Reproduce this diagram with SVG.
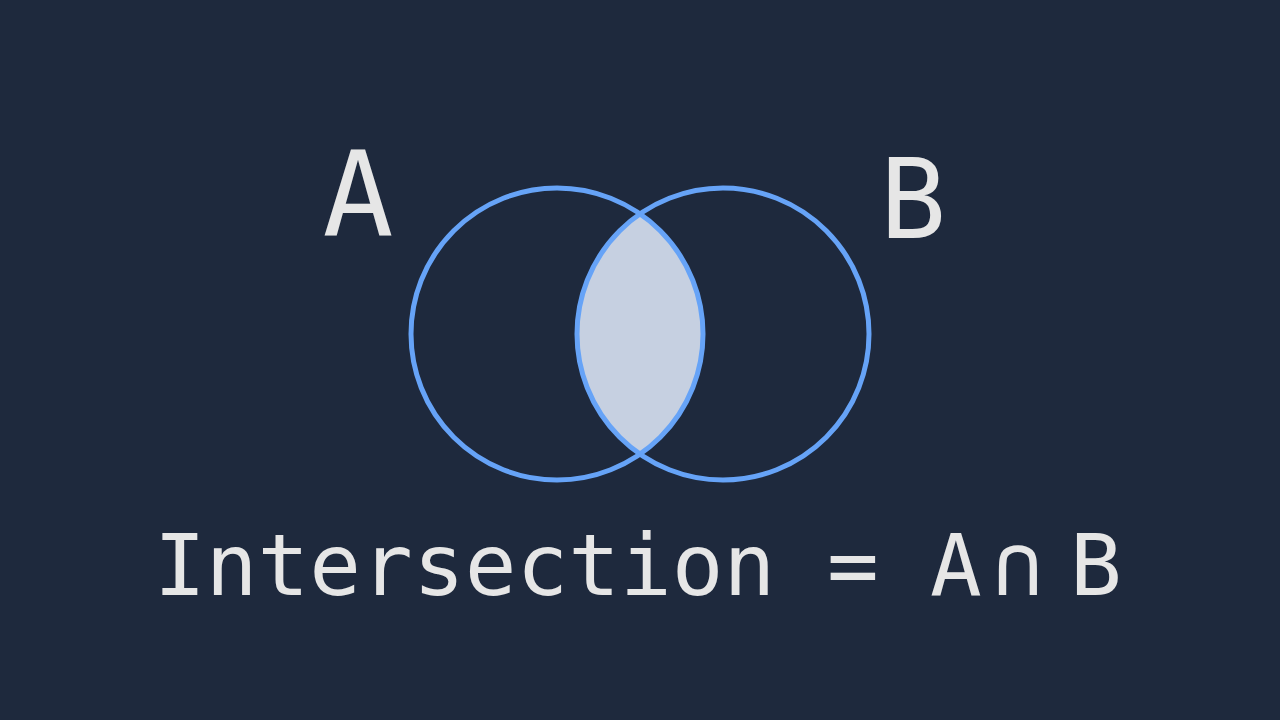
<svg xmlns="http://www.w3.org/2000/svg" width="1280" height="720" viewBox="0 0 1280 720">
  <style>
    .ring { fill: none; stroke: #66a3f7; stroke-width: 5; }
    .lens { fill: #c6d0e1; stroke: none; }
    .txt { font-family: "DejaVu Sans Mono", "Liberation Mono", monospace; fill: #e6e6e6; }
  </style>
  <rect x="0" y="0" width="1280" height="720" fill="#1e293d"/>
  <g id="intersection">
    <path class="lens" d="M 640 213.9 A 146 146 0 0 1 640 454.1 A 146 146 0 0 1 640 213.9 Z"/>
  </g>
  <g id="setA">
    <circle class="ring" cx="557" cy="334" r="146"/>
    <text class="txt" x="358" y="235" font-size="118" text-anchor="middle">A</text>
  </g>
  <g id="setB">
    <circle class="ring" cx="723" cy="334" r="146"/>
    <text class="txt" x="913" y="238" font-size="110" text-anchor="middle">B</text>
  </g>
  <g id="formula">
    <text class="txt" x="154" y="595" font-size="86">Intersection = <tspan x="956" text-anchor="middle">A</tspan><tspan x="1018" text-anchor="middle">∩</tspan><tspan x="1096" text-anchor="middle">B</tspan></text>
  </g>
</svg>
